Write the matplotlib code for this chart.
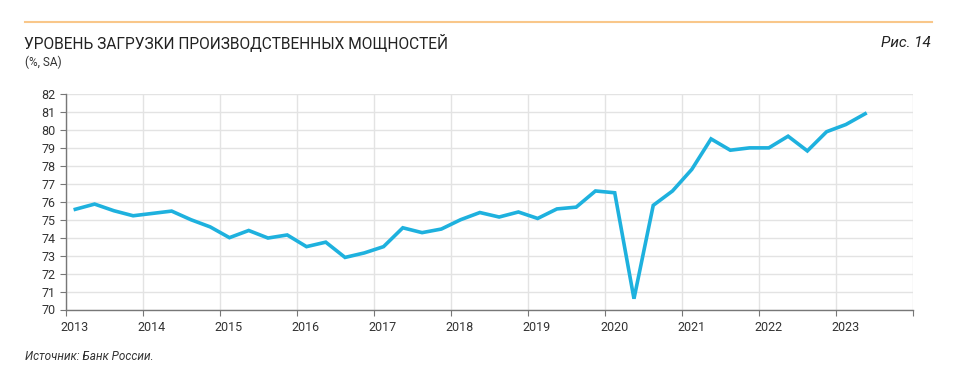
import numpy as np
import matplotlib.pyplot as plt
import matplotlib.transforms as mtransforms

# quarterly capacity utilisation, 2013Q1 .. 2023Q2
values = [75.58, 75.87, 75.5, 75.22,
          75.35, 75.48, 75.0, 74.6,
          74.0, 74.4, 73.98, 74.15,
          73.5, 73.75, 72.9, 73.15,
          73.5, 74.55, 74.28, 74.48,
          75.0, 75.4, 75.15, 75.43,
          75.07, 75.6, 75.7, 76.6,
          76.5, 70.6, 75.8, 76.6,
          77.8, 79.5, 78.87, 79.0,
          79.0, 79.65, 78.83, 79.9,
          80.3, 80.9]
start_year = 2013
years = list(range(2013, 2025))
year_labels = [str(y) for y in range(2013, 2024)] + ['']
yticks = list(range(70, 83))

quarters = np.arange(len(values))
xpos = start_year + (quarters + 0.5) / 4

plt.rcParams['font.family'] = ['Roboto', 'DejaVu Sans']

fig = plt.figure(figsize=(9.57, 3.8), dpi=100)
ax = fig.add_axes([65.7 / 957, 1 - 309.5 / 380, (913.3 - 65.7) / 957, (309.5 - 94) / 380])

ax.plot(xpos, values, color='#1eb1de', lw=2.6, solid_joinstyle='miter')

ax.set_xlim(2013, 2024)
ax.set_ylim(70, 82)
ax.set_yticks(yticks)
ax.set_xticks(years)
ax.set_xticklabels(year_labels)
ax.grid(True, color='#e3e3e3', lw=1)
ax.set_axisbelow(True)

for s in ['top', 'right']:
    ax.spines[s].set_visible(False)
for s in ['left', 'bottom']:
    ax.spines[s].set_color('#777777')
    ax.spines[s].set_linewidth(1.0)
ax.tick_params(axis='both', direction='out', length=4.5, color='#777777',
               labelsize=9, labelcolor='#333333')
ax.tick_params(axis='y', pad=3)
ax.tick_params(axis='x', pad=4)

offset = mtransforms.ScaledTranslation(9 / 100, 0, fig.dpi_scale_trans)
for lab in ax.get_xticklabels():
    lab.set_transform(lab.get_transform() + offset)

# header
fig.add_artist(plt.Line2D([25 / 957, 932 / 957], [1 - 22 / 380, 1 - 22 / 380],
                          color='#f9c78a', lw=1.5))
fig.text(24 / 957, 1 - 43 / 380, 'УРОВЕНЬ ЗАГРУЗКИ ПРОИЗВОДСТВЕННЫХ МОЩНОСТЕЙ',
         fontsize=11.2, color='#222222', va='center', ha='left')
fig.text(25 / 957, 1 - 62 / 380, '(%, SA)', fontsize=8.5, color='#333333',
         va='center', ha='left')
fig.text(931 / 957, 1 - 43 / 380, 'Рис. 14', fontsize=11, color='#222222',
         va='center', ha='right', style='italic')
fig.text(25 / 957, 1 - 357 / 380, 'Источник: Банк России.', fontsize=8.5,
         color='#333333', va='center', ha='left', style='italic')

fig.savefig('out.png', dpi=100, facecolor='white')
